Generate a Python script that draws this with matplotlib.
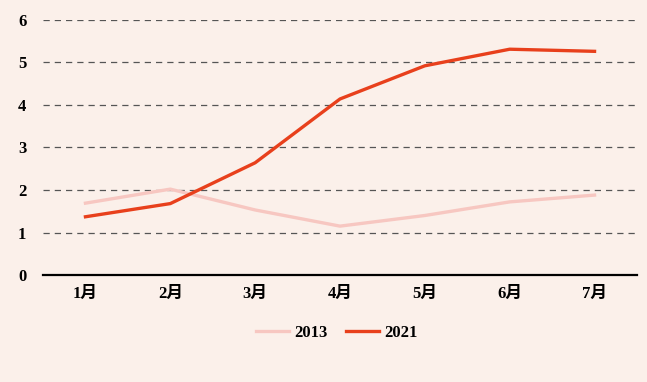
import matplotlib.pyplot as plt

months = ["1月", "2月", "3月", "4月", "5月", "6月", "7月"]
vals_2013 = [1.69, 2.02, 1.53, 1.15, 1.40, 1.72, 1.88]
vals_2021 = [1.37, 1.68, 2.64, 4.14, 4.92, 5.31, 5.26]

BG = "#fbf0ea"
plt.rcParams['font.family'] = ['Liberation Serif', 'Noto Sans CJK SC']

fig = plt.figure(figsize=(6.47, 3.82), dpi=100, facecolor=BG)
ax = fig.add_axes([0.0665, 0.28, 0.918, 0.668], facecolor=BG)

x = range(len(months))
ax.plot(x, vals_2013, color="#f7c7c1", lw=2.4, label="2013")
ax.plot(x, vals_2021, color="#e8401c", lw=2.4, label="2021")

ax.set_xlim(-0.5, len(months) - 0.5)
ax.set_ylim(0, 6)
ax.set_yticks(range(0, 7))
ax.set_xticks(list(x))
ax.set_xticklabels(months)
ax.tick_params(length=0, labelsize=12, pad=8)
ax.tick_params(axis='y', pad=12)
for lab in ax.get_xticklabels() + ax.get_yticklabels():
    lab.set_fontweight('bold')

ax.grid(axis='y', linestyle=(0, (5, 4)), color="#555555", lw=0.9)
ax.set_axisbelow(True)
for s in ["top", "right", "left"]:
    ax.spines[s].set_visible(False)
ax.spines["bottom"].set_color("black")
ax.spines["bottom"].set_linewidth(1.6)

leg = fig.legend(loc="center", bbox_to_anchor=(0.52, 0.128), ncol=2, frameon=False,
                 fontsize=12, handlelength=2.0, columnspacing=1.1, handletextpad=0.3)
for t in leg.get_texts():
    t.set_fontweight('bold')

fig.savefig("out.png", dpi=100, facecolor=BG)
